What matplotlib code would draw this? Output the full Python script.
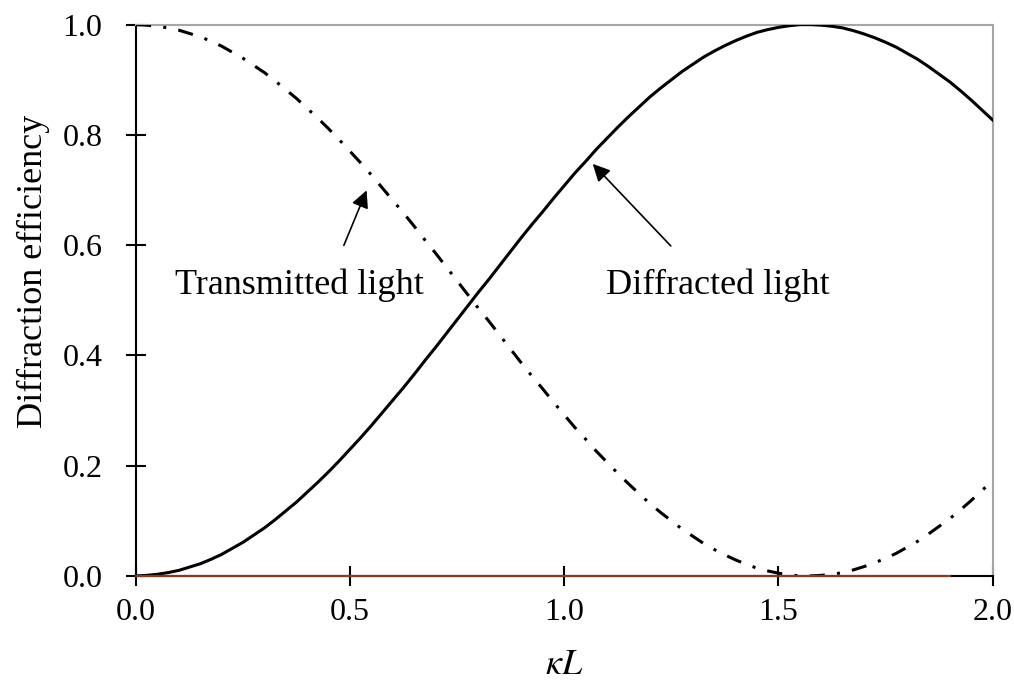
import matplotlib
matplotlib.use("Agg")
import matplotlib.pyplot as plt

# ==== data ====
kappa_L = [0.000, 0.025, 0.050, 0.075, 0.100, 0.125, 0.150, 0.175, 0.200, 0.225,
           0.250, 0.275, 0.300, 0.325, 0.350, 0.375, 0.400, 0.425, 0.450, 0.475,
           0.500, 0.525, 0.550, 0.575, 0.600, 0.625, 0.650, 0.675, 0.700, 0.725,
           0.750, 0.775, 0.800, 0.825, 0.850, 0.875, 0.900, 0.925, 0.950, 0.975,
           1.000, 1.025, 1.050, 1.075, 1.100, 1.125, 1.150, 1.175, 1.200, 1.225,
           1.250, 1.275, 1.300, 1.325, 1.350, 1.375, 1.400, 1.425, 1.450, 1.475,
           1.500, 1.525, 1.550, 1.575, 1.600, 1.625, 1.650, 1.675, 1.700, 1.725,
           1.750, 1.775, 1.800, 1.825, 1.850, 1.875, 1.900, 1.925, 1.950, 1.975,
           2.000]
diffracted = [0.000, 0.001, 0.003, 0.006, 0.010, 0.016, 0.022, 0.030, 0.039, 0.050,
              0.061, 0.074, 0.087, 0.102, 0.118, 0.134, 0.152, 0.170, 0.189, 0.209,
              0.230, 0.251, 0.273, 0.296, 0.319, 0.342, 0.366, 0.391, 0.415, 0.440,
              0.465, 0.490, 0.515, 0.539, 0.564, 0.589, 0.614, 0.638, 0.661, 0.685,
              0.708, 0.731, 0.752, 0.774, 0.794, 0.814, 0.833, 0.851, 0.869, 0.885,
              0.900, 0.915, 0.928, 0.941, 0.952, 0.962, 0.971, 0.979, 0.986, 0.991,
              0.995, 0.998, 1.000, 1.000, 0.999, 0.997, 0.994, 0.989, 0.983, 0.976,
              0.968, 0.959, 0.948, 0.937, 0.924, 0.910, 0.896, 0.880, 0.863, 0.845,
              0.827]
transmitted = [1.000, 0.999, 0.997, 0.994, 0.990, 0.984, 0.978, 0.970, 0.961, 0.950,
               0.939, 0.926, 0.913, 0.898, 0.882, 0.866, 0.848, 0.830, 0.811, 0.791,
               0.770, 0.749, 0.727, 0.704, 0.681, 0.658, 0.634, 0.609, 0.585, 0.560,
               0.535, 0.510, 0.485, 0.461, 0.436, 0.411, 0.386, 0.362, 0.339, 0.315,
               0.292, 0.269, 0.248, 0.226, 0.206, 0.186, 0.167, 0.149, 0.131, 0.115,
               0.100, 0.085, 0.072, 0.059, 0.048, 0.038, 0.029, 0.021, 0.014, 0.009,
               0.005, 0.002, 0.000, 0.000, 0.001, 0.003, 0.006, 0.011, 0.017, 0.024,
               0.032, 0.041, 0.052, 0.063, 0.076, 0.090, 0.104, 0.120, 0.137, 0.155,
               0.173]
# third series lying on zero
baseline_x = [0.0, 1.9]
baseline_y = [0.0, 0.0]

x_ticks = [0.0, 0.5, 1.0, 1.5, 2.0]
y_ticks = [0.0, 0.2, 0.4, 0.6, 0.8, 1.0]

plt.rcParams['font.family'] = ['Liberation Serif', 'DejaVu Serif']
plt.rcParams['mathtext.fontset'] = 'stix'

fig = plt.figure(figsize=(10.14, 6.84), dpi=100)
ax = fig.add_axes([0.134, 0.158, 0.845, 0.806])

ax.plot(baseline_x, baseline_y, color='#8b3a1a', lw=1.6, zorder=4, clip_on=False)
ax.plot(kappa_L, transmitted, color='black', lw=2.2,
        linestyle=(0, (5, 4, 1, 4)), zorder=3)
ax.plot(kappa_L, diffracted, color='black', lw=2.2, zorder=3)

ax.set_xlim(0, 2.0)
ax.set_ylim(0, 1.0)
ax.set_xticks(x_ticks)
ax.set_yticks(y_ticks)
ax.set_xticklabels([f"{t:.1f}" for t in x_ticks])
ax.set_yticklabels([f"{t:.1f}" for t in y_ticks])
ax.tick_params(direction='inout', length=14, width=1.5, labelsize=23)
ax.tick_params(axis='y', pad=17)
ax.tick_params(axis='x', pad=9)

for side in ['left', 'bottom']:
    ax.spines[side].set_linewidth(1.5)
    ax.spines[side].set_color('black')
for side in ['top', 'right']:
    ax.spines[side].set_linewidth(1.5)
    ax.spines[side].set_color('#a6a6a6')

ax.set_xlabel(r"$\kappa L$", fontsize=26)
ax.set_ylabel("Diffraction efficiency", fontsize=26)
ax.xaxis.set_label_coords(0.5, -0.132)
ax.yaxis.set_label_coords(-0.100, 0.552)

arrow = dict(arrowstyle='-|>', color='black', lw=1.2, mutation_scale=26)
ax.annotate("", xy=(0.541, 0.704), xytext=(0.483, 0.595), arrowprops=arrow)
ax.annotate("", xy=(1.062, 0.751), xytext=(1.253, 0.595), arrowprops=arrow)
ax.text(0.091, 0.528, "Transmitted light", fontsize=26, va='center', ha='left')
ax.text(1.097, 0.528, "Diffracted light", fontsize=26, va='center', ha='left')

fig.savefig("out.png", dpi=100)
